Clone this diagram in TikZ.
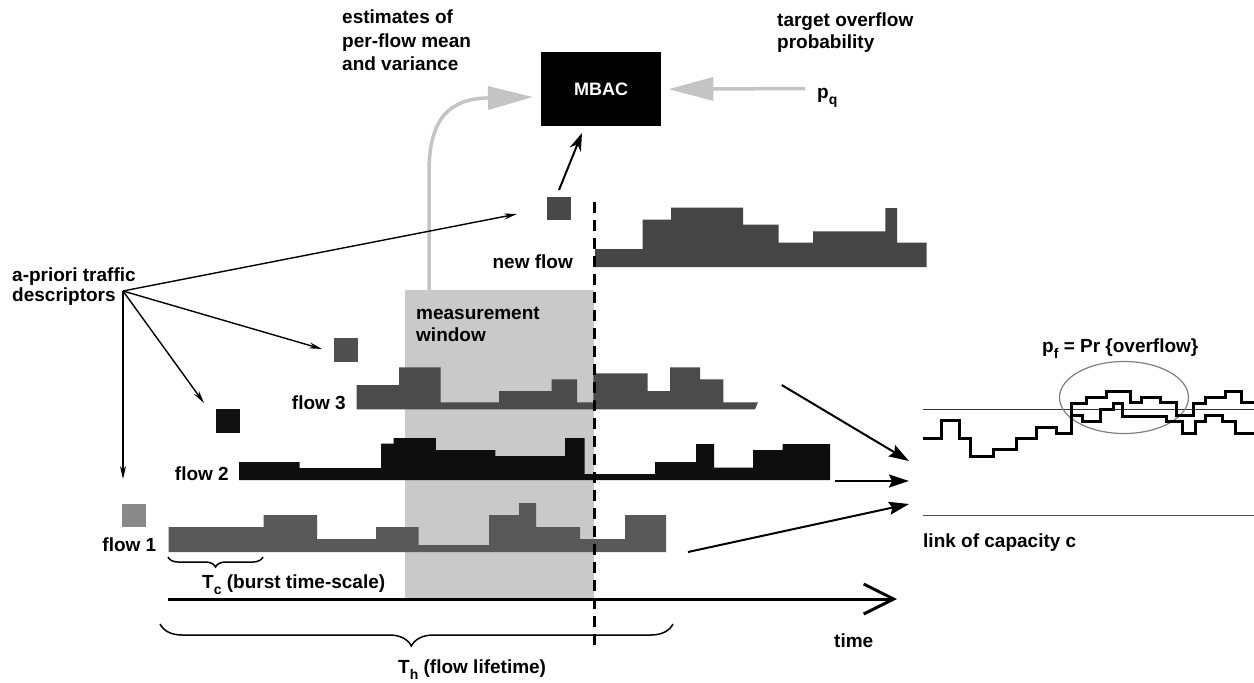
\documentclass[tikz,border=0pt]{standalone}
\usepackage{fontspec}
\setmainfont{Liberation Sans}
\usetikzlibrary{arrows.meta,decorations.pathreplacing}
\newcommand{\lowsub}[1]{\raisebox{-6pt}{\fontsize{14}{14}\selectfont #1}}
\definecolor{lgray}{HTML}{C4C4C4}
\definecolor{shadecol}{HTML}{C9C9C9}
\definecolor{fnew}{HTML}{454545}
\definecolor{fthree}{HTML}{4B4B4B}
\definecolor{ftwo}{HTML}{0E0E0E}
\definecolor{fone}{HTML}{585858}
\definecolor{sqnewc}{HTML}{484848}
\definecolor{sqthreec}{HTML}{505050}
\definecolor{sqtwoc}{HTML}{111111}
\definecolor{sqonec}{HTML}{8A8A8A}
\tikzset{
  lbl/.style={font=\fontsize{19}{22}\selectfont\bfseries, inner sep=0pt, align=left},
  sqbox/.style={minimum width=24pt, minimum height=23pt, inner sep=0pt},
  thinarr/.style={line width=1.4pt, -{Stealth[length=13pt,width=6pt]}},
  linkarr/.style={line width=2pt, -{Stealth[length=20pt,width=13pt,inset=3pt]}},
  grayarr/.style={draw=lgray, line width=3.5pt, -{Triangle[length=45pt,width=23pt]}},
  stepline/.style={line width=3pt, line join=miter},
  bracestyle/.style={line width=1.5pt, decorate},
}
\begin{document}
\begin{tikzpicture}[x=1pt,y=-1pt]
\fill[white] (0,0) rectangle (1254,683);
\useasboundingbox (0,0) rectangle (1254,683);

% measurement window
\node[fill=shadecol, minimum width=189pt, minimum height=308pt, inner sep=0pt, anchor=north west] (win) at (405,290) {};
\node[lbl, anchor=base west] (mwlbl) at (416,341) {measurement\\window};

% MBAC
\node[fill=black, minimum width=120pt, minimum height=74pt, inner sep=0pt, anchor=north west,
      text=white, font=\fontsize{18}{20}\selectfont\bfseries] (mbac) at (541,52) {MBAC};

% top labels
\node[lbl, anchor=north west, font=\fontsize{19}{23.5}\selectfont\bfseries] (estl) at (342,10) {estimates of\\per-flow mean\\and variance};
\node[lbl, anchor=north west] (tgtl) at (777,13) {target overflow\\probability};
\node[lbl, anchor=base west] (pq) at (817,98) {p\lowsub{q}};

% gray arrows
\coordinate (gstart) at (429,290);
\coordinate (gbend) at (487,98);
\coordinate (gtip) at (533,97);
\draw[grayarr] (gstart) -- (429,172) .. controls (429,118) and (450,99) .. (gbend) -- (gtip);
\coordinate (pqarr) at (805,88.5);
\draw[grayarr, shorten >=7pt] (pqarr) -- (mbac.east);

% new flow
\fill[fnew] (595,267) -- (595,249) -- (642.7,249) -- (642.7,219.5) -- (671,219.5) -- (671,207.5)
  -- (743,207.5) -- (743,224.7) -- (778.5,224.7) -- (778.5,242.7) -- (813,242.7) -- (813,231.3)
  -- (885.4,231.3) -- (885.4,208) -- (897,208) -- (897,242.7) -- (926.5,242.7) -- (926.5,267) -- cycle;
\node[sqbox, fill=sqnewc] (sqnew) at (559,208.5) {};
\node[lbl, anchor=base east] (newl) at (573,268) {new flow};
\coordinate (bstart) at (559,190);
\coordinate (btip) at (582,133);
\draw[line width=2pt, -{Stealth[length=18pt,width=12pt]}] (bstart) -- (btip);

% flow 3
\fill[fthree] (356.7,409.3) -- (356.7,385) -- (399,385) -- (399,367.3) -- (440.7,367.3) -- (440.7,402.3)
  -- (499,402.3) -- (499,391) -- (551.7,391) -- (551.7,379.3) -- (577,379.3) -- (577,402.3)
  -- (593.3,402.3) -- (593.3,373.3) -- (647.7,373.3) -- (647.7,391) -- (670,391) -- (670,367.3)
  -- (700,367.3) -- (700,379.3) -- (723.3,379.3) -- (723.3,402.3) -- (758,402.3) -- (755,409.3) -- cycle;
\node[sqbox, minimum height=24pt, fill=sqthreec] (sq3) at (346,350) {};
\node[lbl, anchor=base east] (f3l) at (346,409) {flow 3};

% flow 2
\fill[ftwo] (239,480) -- (239,462) -- (299.5,462) -- (299.5,468) -- (381,468) -- (381,443.5)
  -- (393.7,443.5) -- (393.7,438) -- (435.8,438) -- (435.8,450) -- (495.4,450) -- (495.4,456)
  -- (565,456) -- (565,438) -- (584.5,438) -- (584.5,474) -- (655,474) -- (655,462) -- (696,462)
  -- (696,444) -- (714,444) -- (714,467.5) -- (753,467.5) -- (753,450) -- (782.5,450) -- (782.5,444)
  -- (830,444) -- (830,480) -- cycle;
\node[sqbox, minimum height=24pt, fill=sqtwoc] (sq2) at (228,421) {};
\node[lbl, anchor=base east] (f2l) at (229,480.5) {flow 2};

% flow 1
\fill[fone] (168.5,552) -- (168.5,527) -- (263.5,527) -- (263.5,515) -- (317,515) -- (317,539)
  -- (376,539) -- (376,527) -- (418.6,527) -- (418.6,545) -- (489,545) -- (489,515) -- (519,515)
  -- (519,503) -- (536,503) -- (536,527) -- (580,527) -- (580,539) -- (625,539) -- (625,515)
  -- (666,515) -- (666,552) -- cycle;
\node[sqbox, fill=sqonec] (sq1) at (134,515.5) {};
\node[lbl, anchor=base east] (f1l) at (156.5,551.7) {flow 1};

% dashed line
\coordinate (dtop) at (594,202);
\coordinate (dbot) at (594,647);
\draw[line width=3pt, dash pattern=on 11pt off 7pt] (dtop) -- (dbot);

% a-priori descriptors
\node[lbl, anchor=north west, font=\fontsize{19}{20}\selectfont\bfseries] (apl) at (12,268) {a-priori traffic\\descriptors};
\coordinate (src) at (123,291);
\coordinate (tnew) at (517,214);
\coordinate (t3) at (322,349);
\coordinate (t2) at (204,403);
\coordinate (t1) at (123,479);
\draw[thinarr] (src) -- (tnew);
\draw[thinarr] (src) -- (t3);
\draw[thinarr] (src) -- (t2);
\draw[thinarr] (src) -- (t1);

% T_c brace
\draw[bracestyle, decoration={brace, amplitude=10pt, mirror}] (168,557) -- (263,557);
\node[lbl, anchor=base west] (tcl) at (202,588) {T\lowsub{c} (burst time-scale)};

% time axis
\coordinate (axl) at (168,599);
\coordinate (axr) at (897,599);
\draw[line width=3pt, -{Straight Barb[length=30pt,width=30pt]}] (axl) -- (axr);
\node[lbl, anchor=base west] (timel) at (834,647) {time};

% T_h brace
\draw[bracestyle, decoration={brace, amplitude=22pt, mirror, aspect=0.49}] (160,624) -- (673,624);
\node[lbl, anchor=base west] (thl) at (398,673) {T\lowsub{h} (flow lifetime)};

% arrows to link
\coordinate (f3e) at (781.7,385);
\coordinate (f2e) at (835,481);
\coordinate (f1e) at (688,552);
\coordinate (in1) at (909,461);
\coordinate (in2) at (909,481);
\coordinate (in3) at (909,504);
\draw[linkarr] (f3e) -- (in1);
\draw[linkarr] (f2e) -- (in2);
\draw[linkarr] (f1e) -- (in3);

% link panel
\coordinate (thl0) at (922.7,409.3);
\coordinate (thl1) at (1254,409.3);
\draw[line width=1.3pt, black!80] (thl0) -- (thl1);
\coordinate (lk0) at (922.7,515.7);
\coordinate (lk1) at (1254,515.7);
\draw[line width=1.5pt, black!70] (lk0) -- (lk1);
\node[lbl, anchor=base west] (linkl) at (923,547) {link of capacity c};
\draw[line width=1.2pt, black!50] (1124,397.5) ellipse [x radius=64.5pt, y radius=36pt];
\node[lbl, anchor=base west] (pfl) at (1042,352) {p\lowsub{f} = Pr \{overflow\}};

\draw[stepline] (922.7,438.3) -- (941.7,438.3) -- (941.7,420.7) -- (959.3,420.7) -- (959.3,438.3)
  -- (970.7,438.3) -- (970.7,456) -- (993.3,456) -- (993.3,449.3) -- (1016,449.3) -- (1016,438.3)
  -- (1036,438.3) -- (1036,427.3) -- (1056,427.3) -- (1056,433.3) -- (1071.7,433.3) -- (1071.7,403.3)
  -- (1086.7,403.3) -- (1086.7,397.3) -- (1106.7,397.3) -- (1106.7,391) -- (1130,391) -- (1130,402.7)
  -- (1141.7,402.7) -- (1141.7,397.3) -- (1160,397.3) -- (1160,402.7) -- (1176.7,402.7) -- (1176.7,415)
  -- (1193.3,415) -- (1193.3,403.3) -- (1205,403.3) -- (1205,397.3) -- (1225,397.3) -- (1225,391)
  -- (1241.7,391) -- (1241.7,402.7) -- (1254,402.7);
\draw[stepline] (1071.7,415) -- (1082.7,415) -- (1082.7,421.7) -- (1100,421.7) -- (1100,409.3)
  -- (1113.3,409.3) -- (1113.3,403.3) -- (1122.7,403.3) -- (1122.7,416) -- (1166.7,416) -- (1166.7,421.7)
  -- (1182.7,421.7) -- (1182.7,433.3) -- (1195,433.3) -- (1195,421.7) -- (1205,421.7) -- (1205,415)
  -- (1222.7,415) -- (1222.7,421.7) -- (1235,421.7) -- (1235,433.3) -- (1254,433.3);
\end{tikzpicture}
\end{document}
